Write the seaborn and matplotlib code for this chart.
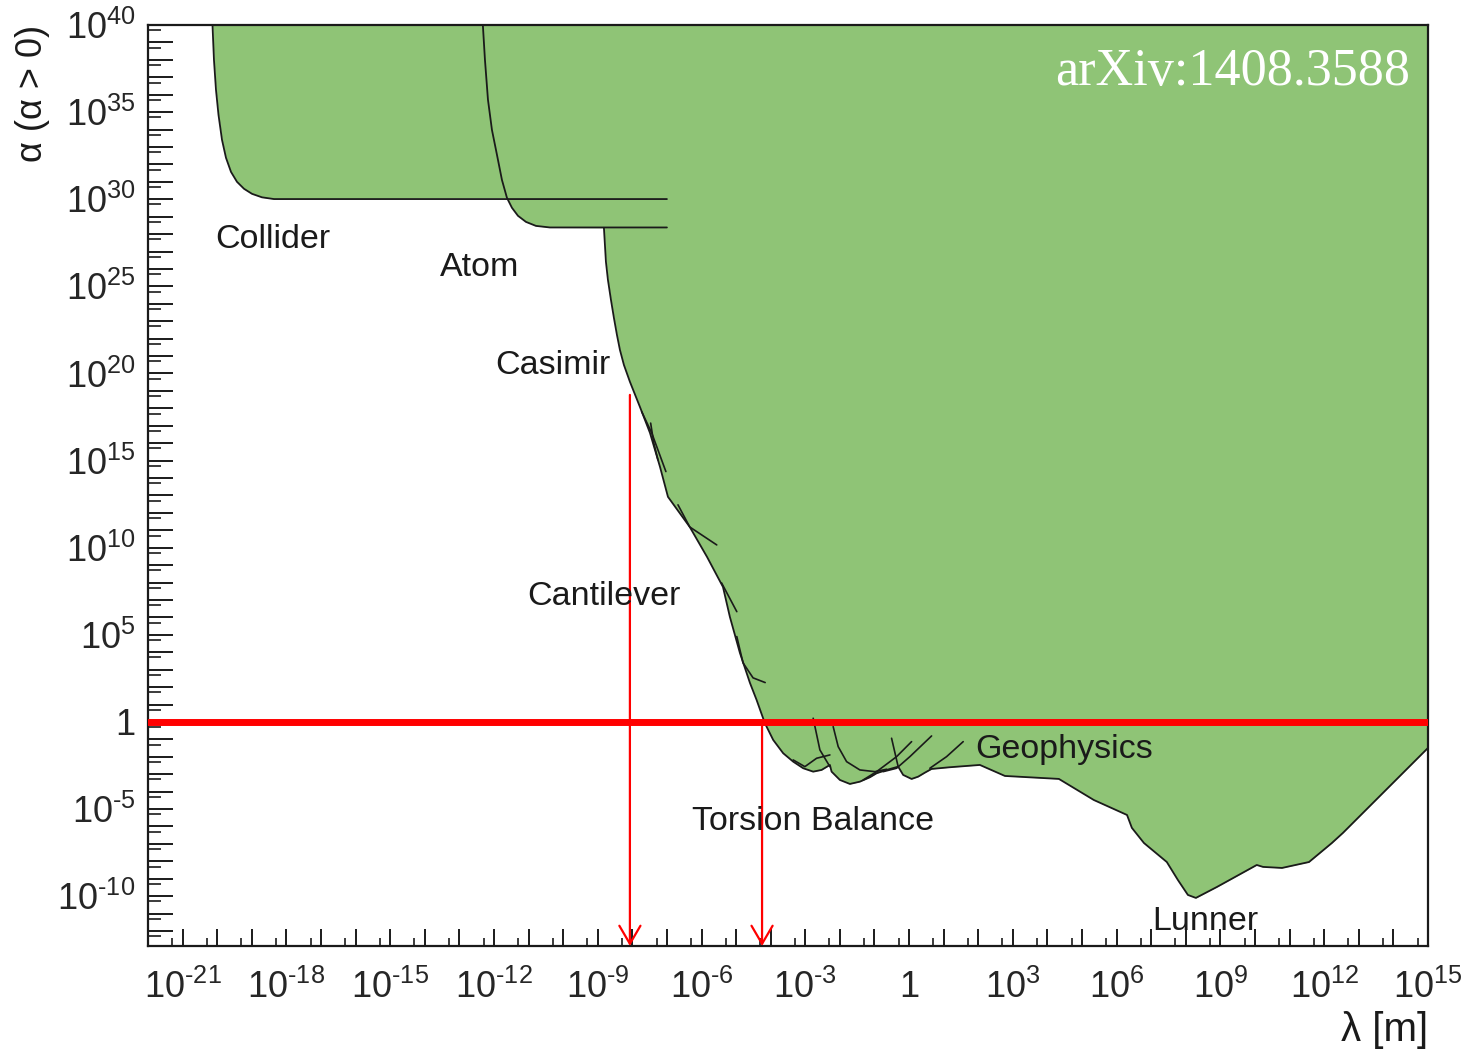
import numpy as np
import matplotlib
matplotlib.use("Agg")
import matplotlib.pyplot as plt
from matplotlib.ticker import FixedLocator, FuncFormatter, NullFormatter
import seaborn as sns

# all values as log10(lambda / m) and log10(alpha)
collider_x = [-20.136, -20.093, -20.035, -19.962, -19.861, -19.746, -19.601, -19.428,
              -19.225, -18.994, -18.705, -18.358, -7.0]
collider_y = [40.01, 37.99, 36.28, 34.84, 33.41, 32.38, 31.57, 31.00,
              30.60, 30.31, 30.11, 30.01, 30.01]

atom_x = [-12.321, -12.260, -12.173, -12.058, -11.913, -11.769, -11.624, -11.480,
          -11.306, -11.075, -10.786, -10.382, -7.0]
atom_y = [40.01, 38.00, 35.71, 33.98, 32.55, 31.11, 30.08, 29.51,
          29.05, 28.70, 28.47, 28.38, 28.38]

# Casimir + cantilever bound
casimir_x = [-8.821, -8.792, -8.763, -8.705, -8.618, -8.532, -8.445, -8.358, -8.243, -8.069,
             -7.78, -7.49, -7.20, -6.97, -6.34, -5.84, -5.38, -5.18, -4.89, -4.60]
casimir_y = [28.36, 27.38, 26.41, 25.37, 24.23, 23.19, 22.22, 21.35, 20.49, 19.52,
             18.08, 16.59, 14.64, 12.92, 11.19, 9.47, 7.75, 6.03, 3.96, 2.24]

# torsion balance bound
torsion_x = [-4.408, -4.168, -3.928, -3.639, -3.350, -3.061, -2.772, -2.529, -2.289, -2.240,
             -2.000, -1.711, -1.422, -1.133, -0.939, -0.650, -0.315, -0.171, 0.072, 0.263,
             0.457, 0.650, 1.179]
torsion_y = [1.263, -0.075, -1.033, -1.797, -2.279, -2.658, -2.853, -2.755, -2.468, -2.853,
             -3.330, -3.559, -3.427, -3.175, -2.945, -2.755, -2.566, -3.042, -3.272, -3.140,
             -2.910, -2.698, -2.600]

# geophysics + lunar ranging bound
geo_x = [2.046, 2.77, 4.33, 5.34, 6.30, 6.44, 6.79, 7.45, 7.77, 8.06, 8.29,
         8.90, 10.05, 10.23, 10.78, 11.56, 12.22, 12.54, 15.0]
geo_y = [-2.468, -3.10, -3.27, -4.48, -5.34, -6.08, -6.95, -8.04, -9.07, -9.93, -10.10,
         -9.47, -8.21, -8.32, -8.38, -8.04, -6.95, -6.37, -1.49]

# short overlapping pieces of the individual experiments
extra_x = [[-7.73, -7.44, -7.03], [-7.47, -7.38, -7.26], [-6.68, -6.34, -5.56],
           [-5.42, -4.98], [-4.98, -4.80, -4.51, -4.16],
           [-2.772, -2.578, -2.289], [-3.350, -3.012, -2.673, -2.289],
           [-2.194, -2.049, -1.806, -1.422, -0.988, -0.650],
           [0.072, -0.361, -0.939, -1.327], [0.650, 0.023, -0.361, -0.749],
           [-0.506, -0.361, -0.315], [1.564, 1.084, 0.601]]
extra_y = [[17.81, 16.59, 14.37], [17.15, 16.00, 15.04], [12.46, 11.19, 10.16],
           [7.98, 6.33], [4.90, 3.39, 2.53, 2.26],
           [0.212, -1.607, -2.566], [-2.181, -2.566, -2.084, -1.894],
           [-0.270, -1.418, -2.279, -2.755, -2.853, -2.715],
           [-1.131, -1.992, -2.853, -3.330], [-0.804, -1.992, -2.658, -2.853],
           [-0.936, -2.181, -2.566], [-1.131, -1.992, -2.658]]

arrow_x = [-8.07, -4.25]
arrow_top = [18.77, 0.0]

labels = ["Collider", "Atom", "Casimir", "Cantilever", "Torsion Balance", "Geophysics", "Lunner"]
label_x = [-20.06, -13.56, -11.97, -11.05, -6.28, 1.90, 7.02]
label_y = [27.67, 26.06, 20.44, 7.18, -5.74, -1.60, -11.45]

x_lo, x_hi = -22, 15
y_lo, y_hi = -12.86, 40

sns.set_theme(style="ticks")
plt.rcParams['font.family'] = ['Liberation Sans', 'DejaVu Sans']
plt.rcParams['mathtext.fontset'] = 'custom'
plt.rcParams['mathtext.rm'] = 'Liberation Sans'
plt.rcParams['mathtext.it'] = 'Liberation Sans:italic'
plt.rcParams['mathtext.bf'] = 'Liberation Sans:bold'

green = '#8fc476'
ink = '#1a1a1a'

fig = plt.figure(figsize=(14.68, 10.51), dpi=100)
ax = fig.add_axes([0.10082, 0.09990, 0.87193, 0.87631])
ax.set_xscale('log')
ax.set_yscale('log')

p = lambda a: 10 ** np.asarray(a, dtype=float)

# lower envelope of the excluded region
env_x = collider_x[:12] + atom_x[6:12] + casimir_x + torsion_x + geo_x
env_y = collider_y[:12] + atom_y[6:12] + casimir_y + torsion_y + geo_y
ax.fill_between(p(env_x), p(env_y), p(y_hi + 1), color=green, lw=0, zorder=1)

bound_x = casimir_x + torsion_x + geo_x
bound_y = casimir_y + torsion_y + geo_y
for xs, ys in [(collider_x, collider_y), (atom_x, atom_y), (bound_x, bound_y)]:
    sns.lineplot(x=p(xs), y=p(ys), sort=False, estimator=None, color=ink, lw=1.3, ax=ax, zorder=2)
for xs, ys in zip(extra_x, extra_y):
    sns.lineplot(x=p(xs), y=p(ys), sort=False, estimator=None, color=ink, lw=1.2, ax=ax, zorder=2)

# alpha = 1 line and arrows down to lambda
ax.axhline(1.0, color='red', lw=5, zorder=3)
for ax_x, top in zip(arrow_x, arrow_top):
    ax.annotate('', xy=(p(ax_x), p(y_lo)), xytext=(p(ax_x), p(top)),
                arrowprops=dict(arrowstyle='->,head_length=0.65,head_width=0.38', color='red',
                                lw=1.6, shrinkA=0, shrinkB=0, mutation_scale=20), zorder=3)

for t, lx, ly in zip(labels, label_x, label_y):
    ax.text(p(lx), p(ly), t, fontsize=24.5, color=ink, ha='left', va='center', zorder=4)

ax.text(0.986, 0.949, 'arXiv:1408.3588', transform=ax.transAxes, ha='right', va='center',
        fontsize=37.5, color='white', family=['Liberation Serif', 'DejaVu Serif'], zorder=5)

ax.set_xlim(p(x_lo), p(x_hi))
ax.set_ylim(p(y_lo), p(y_hi))


def fmt(step):
    def f(v, pos):
        e = int(round(np.log10(v)))
        if e % step:
            return ''
        if e == 0:
            return '1'
        return r'$10^{\text{%d}}$' % e
    return f


ax.xaxis.set_major_locator(FixedLocator(p(np.arange(-22, 16))))
ax.xaxis.set_minor_locator(FixedLocator(5 * p(np.arange(-23, 15))))
ax.yaxis.set_major_locator(FixedLocator(p(np.arange(-13, 41))))
ax.yaxis.set_minor_locator(FixedLocator(5 * p(np.arange(-14, 40))))
ax.xaxis.set_major_formatter(FuncFormatter(fmt(3)))
ax.yaxis.set_major_formatter(FuncFormatter(fmt(5)))
ax.xaxis.set_minor_formatter(NullFormatter())
ax.yaxis.set_minor_formatter(NullFormatter())

ax.tick_params(axis='x', which='major', direction='in', length=12, width=1.4, color=ink,
               labelsize=26, pad=17, top=False)
ax.tick_params(axis='x', which='minor', direction='in', length=6, width=1.2, color=ink, top=False)
ax.tick_params(axis='y', which='major', direction='in', length=18, width=1.4, color=ink,
               labelsize=26, pad=9, right=False)
ax.tick_params(axis='y', which='minor', direction='in', length=9, width=1.2, color=ink, right=False)

for s in ax.spines.values():
    s.set_linewidth(1.6)
    s.set_color(ink)

ax.set_xlabel('λ [m]', fontsize=29, loc='right', labelpad=4, color=ink)
ax.set_ylabel('α (α > 0)', fontsize=26, loc='top', labelpad=5, color=ink)

fig.savefig('out.png', dpi=100)
